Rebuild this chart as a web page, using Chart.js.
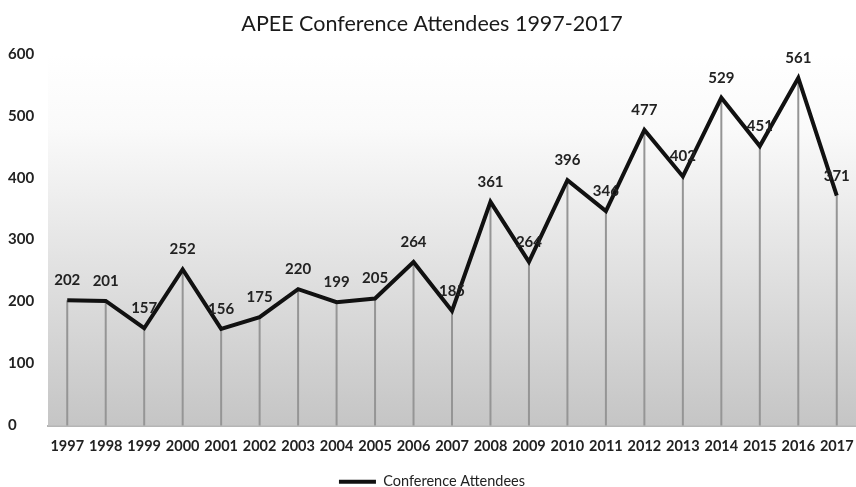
<!DOCTYPE html>
<html>
<head>
<meta charset="utf-8">
<script src="https://cdn.jsdelivr.net/npm/chart.js@4"></script>
<style>
    body { margin: 0; background: #fff; }
    canvas { display: block; }
</style>
</head>
<body>
<canvas id="attendeesChart" width="856" height="487"></canvas>
<script>
// Chart data
const years = ['1997', '1998', '1999', '2000', '2001', '2002', '2003', '2004', '2005', '2006', '2007',
    '2008', '2009', '2010', '2011', '2012', '2013', '2014', '2015', '2016', '2017'];
const attendees = [202, 201, 157, 252, 156, 175, 220, 199, 205, 264, 185,
    361, 264, 396, 346, 477, 402, 529, 451, 561, 371];
const yTicks = [0, 100, 200, 300, 400, 500, 600];

const fontFamily = 'Lato, "Open Sans", sans-serif';

// Gray gradient behind the plot area, plus drop lines
const backdrop = {
    id: 'backdrop',
    beforeDatasetsDraw(chart) {
        const { ctx, chartArea: a } = chart;
        const g = ctx.createLinearGradient(0, a.top, 0, a.bottom);
        g.addColorStop(0, '#ffffff');
        g.addColorStop(0.2, '#fafafa');
        g.addColorStop(1, '#c5c5c5');
        ctx.save();
        ctx.fillStyle = g;
        ctx.fillRect(a.left, a.top, a.right - a.left, a.bottom - a.top);

        const meta = chart.getDatasetMeta(0);
        ctx.strokeStyle = '#959595';
        ctx.lineWidth = 2;
        meta.data.forEach(pt => {
            ctx.beginPath();
            ctx.moveTo(pt.x, pt.y);
            ctx.lineTo(pt.x, a.bottom);
            ctx.stroke();
        });
        ctx.restore();
    }
};

// Value labels above the points
const valueLabels = {
    id: 'valueLabels',
    afterDatasetsDraw(chart) {
        const { ctx } = chart;
        const meta = chart.getDatasetMeta(0);
        ctx.save();
        ctx.font = `bold 15px ${fontFamily}`;
        ctx.fillStyle = '#222';
        ctx.textAlign = 'center';
        ctx.textBaseline = 'middle';
        meta.data.forEach((pt, i) => {
            ctx.fillText(String(attendees[i]), pt.x, pt.y - 20);
        });
        ctx.restore();
    }
};

new Chart(document.getElementById('attendeesChart').getContext('2d'), {
    type: 'line',
    data: {
        labels: years,
        datasets: [{
            label: 'Conference Attendees',
            data: attendees,
            borderColor: '#111',
            backgroundColor: '#111',
            borderWidth: 4,
            borderJoinStyle: 'miter',
            tension: 0,
            pointRadius: 0,
            fill: false
        }]
    },
    options: {
        responsive: false,
        animation: false,
        layout: { padding: { left: 8, right: 0, top: 0, bottom: -12 } },
        scales: {
            x: {
                offset: true,
                grid: { display: false, drawTicks: false },
                border: { display: true, color: '#b5b5b5', width: 2 },
                ticks: {
                    color: '#222',
                    font: { family: fontFamily, size: 14.5, weight: 'bold' },
                    padding: 12,
                    maxRotation: 0,
                    autoSkip: false
                },
                afterFit: axis => {
                    axis.height = 30;
                    axis.paddingLeft = 0;
                    axis.paddingRight = 0;
                }
            },
            y: {
                min: yTicks[0],
                max: yTicks[yTicks.length - 1],
                afterBuildTicks: axis => { axis.ticks = yTicks.map(v => ({ value: v })); },
                grid: { display: false, drawTicks: false },
                border: { display: false },
                ticks: {
                    color: '#222',
                    crossAlign: 'far',
                    font: { family: fontFamily, size: 15, weight: 'bold' },
                    padding: 14
                },
                afterFit: axis => { axis.width = 40; }
            }
        },
        plugins: {
            title: {
                display: true,
                text: 'APEE Conference Attendees 1997-2017',
                color: '#1a1a1a',
                font: { family: fontFamily, size: 21.5, weight: 'normal' },
                padding: { top: 11, bottom: 17 }
            },
            legend: {
                position: 'bottom',
                labels: {
                    usePointStyle: true,
                    pointStyle: 'line',
                    pointStyleWidth: 37,
                    padding: 19,
                    color: '#222',
                    font: { family: fontFamily, size: 14.5 }
                }
            },
            tooltip: { enabled: false }
        }
    },
    plugins: [backdrop, valueLabels]
});
</script>
</body>
</html>
